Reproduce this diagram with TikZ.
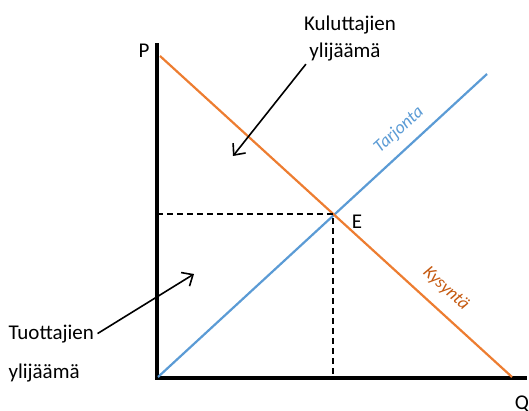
\documentclass[tikz,border=0pt]{standalone}
\usepackage{fontspec}
\setmainfont{Carlito}
\usetikzlibrary{arrows.meta, positioning}

\definecolor{tarjontablue}{RGB}{91,155,213}
\definecolor{kysyntaorange}{RGB}{237,125,49}
\definecolor{kysyntatext}{RGB}{197,90,17}

\begin{document}
\begin{tikzpicture}[x=1pt, y=-1pt, >={Straight Barb[length=9pt,width=16pt]},
    font=\fontsize{21}{25}\selectfont,
    curvelabel/.style={font=\fontsize{18}{20}\selectfont\itshape, inner sep=1pt},
    pointer/.style={->, line width=1.6pt}]
    \useasboundingbox (0,0) rectangle (529,410);

    % axes
    \coordinate (origin) at (157,378);
    \coordinate (ptop) at (157,43);
    \coordinate (qend) at (527,378);
    \draw[line width=3.5pt] (ptop) -- (origin) -- (qend);
    \node[anchor=base] (plabel) at (144,57) {P};
    \node[anchor=north] (qlabel) at (522,392) {Q};

    % supply and demand
    \coordinate (supstart) at (158,377);
    \coordinate (supend) at (487,74);
    \coordinate (demstart) at (160,56);
    \coordinate (demend) at (512,377);
    \draw[tarjontablue, line width=2.2pt] (supstart) -- (supend);
    \draw[kysyntaorange, line width=2.2pt] (demstart) -- (demend);
    \node[curvelabel, text=tarjontablue, rotate=42.6] (tarjonta) at (399,130) {Tarjonta};
    \node[curvelabel, text=kysyntatext, rotate=-42.4] (kysynta) at (446,289) {Kysyntä};

    % equilibrium
    \coordinate (eq) at (333,214);
    \coordinate (eqp) at (157,214);
    \coordinate (eqq) at (333,378);
    \draw[line width=1.6pt, dash pattern=on 6pt off 4pt] (eqp) -- (eq) -- (eqq);
    \node[anchor=base] (elabel) at (357,228) {E};

    % surpluses
    \node[anchor=base] (kulut) at (350,30) {Kuluttajien};
    \node[anchor=base] (kyli) at (345,57) {ylijäämä};
    \coordinate (kulend) at (233,156);
    \draw[pointer] (kyli.south west) -- (kulend);

    \node[anchor=base west] (tuot) at (5,339) {Tuottajien};
    \node[anchor=base west] (tyli) at (5,378) {ylijäämä};
    \coordinate (tuotend) at (194,274);
    \draw[pointer] (tuot.east) -- (tuotend);
\end{tikzpicture}
\end{document}
